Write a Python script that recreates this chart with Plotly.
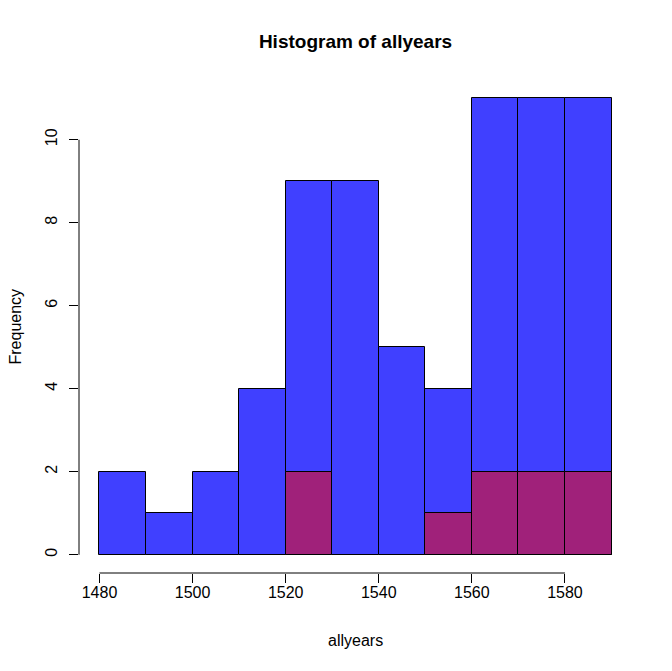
import plotly.graph_objects as go

bin_starts = [1480, 1490, 1500, 1510, 1520, 1530, 1540, 1550, 1560, 1570, 1580]
all_counts = [2, 1, 2, 4, 9, 9, 5, 4, 11, 11, 11]
sub_counts = [0, 0, 0, 0, 2, 0, 0, 1, 2, 2, 2]
bin_width = 10
x_ticks = [1480, 1500, 1520, 1540, 1560, 1580]
y_ticks = [0, 2, 4, 6, 8, 10]

centers = [s + bin_width / 2 for s in bin_starts]
sub_vals = [c if c > 0 else None for c in sub_counts]

W, H = 672, 671
PL, PR, PT, PB = 79, 632, 80, 573  # target plot region in window px
L = PL
T = PT
R = W - L - (PR - PL)
B = H - T - (PB - PT)

fig = go.Figure()
fig.add_trace(go.Bar(x=centers, y=all_counts, width=bin_width,
                     marker=dict(color="#4040FF", line=dict(color="black", width=1))))
fig.add_trace(go.Bar(x=centers, y=sub_vals, width=bin_width,
                     marker=dict(color="#A0217A", line=dict(color="black", width=1))))

font = dict(family="Liberation Sans, Arial, sans-serif", size=16, color="black")

fig.update_layout(
    width=W, height=H,
    margin=dict(l=L, r=R, t=T, b=B),
    paper_bgcolor="white", plot_bgcolor="white",
    barmode="overlay", bargap=0, showlegend=False,
    font=font,
    title=dict(text="<b>Histogram of allyears</b>", x=((PL + PR) / 2) / W, xanchor="center",
               y=1 - 41 / H, yanchor="middle", yref="container",
               font=dict(family="Liberation Sans, Arial, sans-serif", size=19, color="black")),
    xaxis=dict(range=[1475.6, 1594.4], tickvals=x_ticks, ticks="outside", ticklen=9,
               tickcolor="black", tickwidth=1, showgrid=False, zeroline=False, showline=False,
               tickfont=font, ticklabelstandoff=-4),
    yaxis=dict(range=[-0.44, 11.44], tickvals=y_ticks, ticks="outside", ticklen=9,
               tickcolor="black", tickwidth=1, showgrid=False, zeroline=False, showline=False,
               tickangle=-90, tickfont=font, ticklabelstandoff=6),
)

fig.add_shape(type="line", xref="x", yref="paper", x0=x_ticks[0], x1=x_ticks[-1], y0=0, y1=0,
              line=dict(color="black", width=1))
fig.add_shape(type="line", xref="paper", yref="y", x0=0, x1=0, y0=y_ticks[0], y1=y_ticks[-1],
              line=dict(color="black", width=1))

fig.add_annotation(text="allyears", xref="paper", yref="paper", x=0.5,
                   y=-(640 - PB) / (PB - PT), yanchor="middle", showarrow=False, font=font)
fig.add_annotation(text="Frequency", xref="paper", yref="paper", x=-(PL - 15) / (PR - PL), y=0.5,
                   xanchor="center", textangle=-90, showarrow=False, font=font)

fig.write_html("out.html", config={"displayModeBar": False},
               post_script="document.body.style.margin='0';document.body.style.padding='0';")
